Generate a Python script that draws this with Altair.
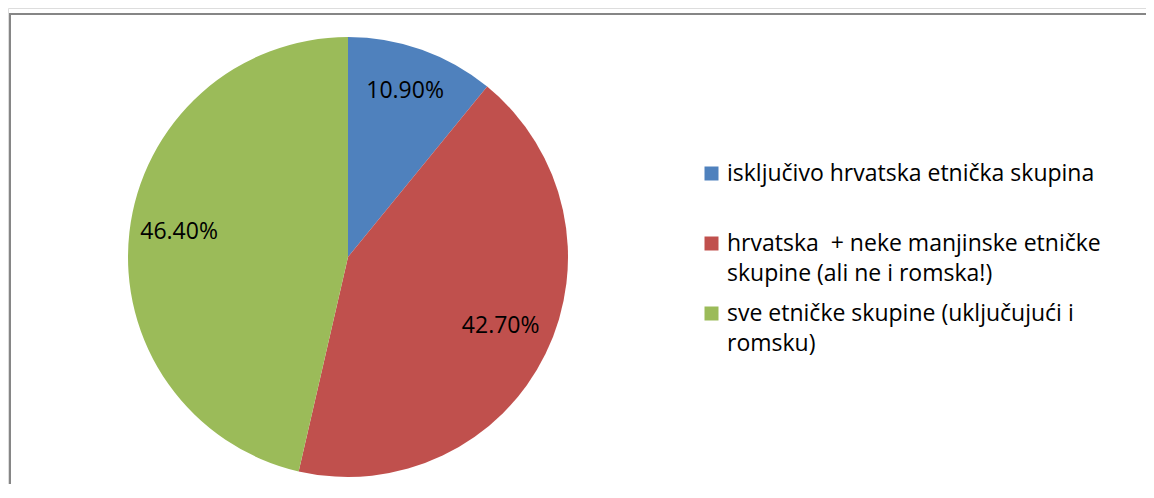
import altair as alt
import pandas as pd

# ---- data ----
categories = [
    "isključivo hrvatska etnička skupina",
    "hrvatska \u00a0+ neke manjinske etničke|skupine (ali ne i romska!)",
    "sve etničke skupine (uključujući i|romsku)",
]
values = [10.9, 42.7, 46.4]
value_labels = ["10.90%", "42.70%", "46.40%"]
slice_order = [0, 1, 2]
colors = ["#4F81BD", "#C0504D", "#9BBB59"]

df = pd.DataFrame({"cat": categories, "val": values, "lab": value_labels, "ord": slice_order})

W, H = 1138, 476
CX, CY = 340, 249
FONT = "Open Sans"

base = alt.Chart(df).encode(
    theta=alt.Theta("val:Q", stack=True),
    order=alt.Order("ord:Q"),
)

pie = base.mark_arc(radius=220, strokeWidth=0).encode(
    x=alt.value(CX),
    y=alt.value(CY),
    color=alt.Color(
        "cat:N",
        scale=alt.Scale(domain=categories, range=colors),
        legend=alt.Legend(
            title=None,
            orient="none",
            legendX=692,
            legendY=154,
            symbolType="square",
            symbolSize=196,
            symbolStrokeWidth=0,
            labelFont=FONT,
            labelFontSize=23,
            labelColor="#000000",
            labelExpr="split(datum.label, '|')",
            labelLimit=0,
            labelBaseline="middle",
            labelOffset=4,
            rowPadding=16,
            gridAlign="all",
        ),
    ),
)

labels = base.mark_text(radius=170, dy=-6, font=FONT, fontSize=23, color="#000000").encode(
    x=alt.value(CX),
    y=alt.value(CY),
    text="lab:N",
)

frame_df = pd.DataFrame({"k": [0]})
top_line = alt.Chart(frame_df).mark_rule(color="#868686", strokeWidth=2).encode(
    x=alt.value(1), x2=alt.value(W), y=alt.value(6)
)
left_line = alt.Chart(frame_df).mark_rule(color="#868686", strokeWidth=2).encode(
    x=alt.value(2), y=alt.value(5), y2=alt.value(H)
)

chart = (
    alt.layer(top_line, left_line, pie, labels)
    .properties(width=W, height=H, padding=0, autosize=alt.AutoSizeParams(type="none"))
    .configure_view(strokeWidth=0)
    .configure(style={"guide-label": {"lineHeight": 30}})
)

chart.save("out.html", embed_options={"renderer": "svg", "actions": False})
